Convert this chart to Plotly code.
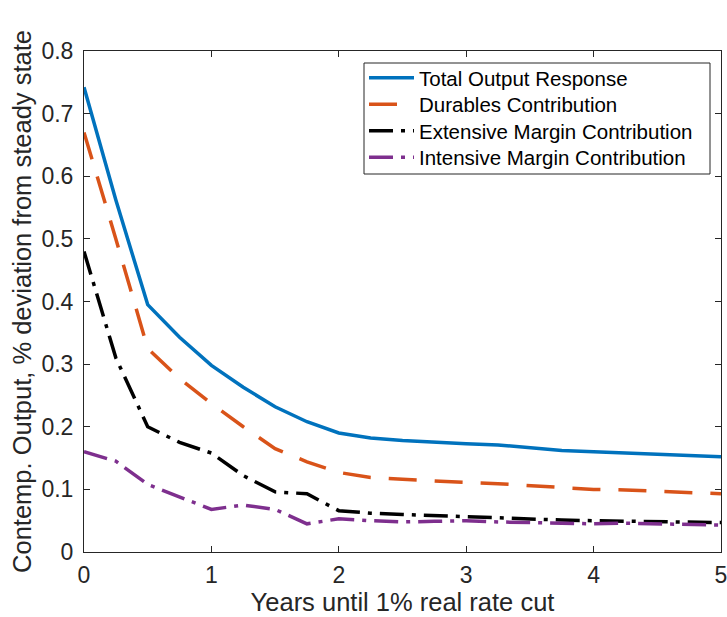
import plotly.graph_objects as go

years = [0, 0.25, 0.5, 0.75, 1.0, 1.25, 1.5, 1.75, 2.0, 2.25, 2.5, 2.75,
         3.0, 3.25, 3.5, 3.75, 4.0, 4.25, 4.5, 4.75, 5.0]

total_output = [0.742, 0.562, 0.395, 0.343, 0.298, 0.263, 0.232, 0.208, 0.190,
                0.182, 0.178, 0.175, 0.173, 0.171, 0.166, 0.162, 0.160, 0.158,
                0.156, 0.153, 0.152]
durables = [0.670, 0.500, 0.325, 0.277, 0.237, 0.200, 0.165, 0.144, 0.127,
            0.119, 0.116, 0.113, 0.111, 0.109, 0.106, 0.102, 0.100, 0.099,
            0.097, 0.095, 0.093]
extensive = [0.480, 0.310, 0.200, 0.175, 0.158, 0.122, 0.096, 0.093, 0.066,
             0.062, 0.060, 0.058, 0.056, 0.055, 0.053, 0.051, 0.050, 0.049,
             0.048, 0.047, 0.047]
intensive = [0.160, 0.145, 0.108, 0.088, 0.068, 0.075, 0.068, 0.045, 0.053,
             0.050, 0.048, 0.049, 0.050, 0.048, 0.047, 0.046, 0.045, 0.046,
             0.045, 0.044, 0.043]

names = ["Total Output Response", "Durables Contribution",
         "Extensive Margin Contribution", "Intensive Margin Contribution"]

FONT = "Liberation Sans, Arial, Helvetica, sans-serif"
AX = "#262626"

W, H = 727, 617
ML, MR, MT, MB = 84, 6, 51, 65

fig = go.Figure()
series = [
    (total_output, "#0072BD", "solid"),
    (durables, "#D95319", "28px,18px"),
    (extensive, "#000000", "24px,8px,4px,8px"),
    (intensive, "#7E2F8E", "24px,8px,4px,8px"),
]
legend_ids = ["legend", "legend2", "legend3", "legend4"]
for (vals, col, dash), nm, lid in zip(series, names, legend_ids):
    fig.add_trace(go.Scatter(x=years, y=vals, mode="lines", name=nm, legend=lid,
                             line=dict(color=col, width=3.5, dash=dash)))

axis_common = dict(
    showgrid=False, zeroline=False, showline=True, linecolor=AX, linewidth=1,
    mirror="ticks", ticks="inside", ticklen=6, tickcolor=AX, tickwidth=1,
    tickfont=dict(family=FONT, size=23, color=AX), automargin=False,
    ticklabeloverflow="allow",
)

# legend box geometry in plot-area fractions
plot_w = W - ML - MR
plot_h = H - MT - MB
box_left, box_right, box_top, box_bot = 364 - 84, 710 - 84, 63 - 51, 174 - 51
row_centers = [78, 104.5, 131, 157.5]

legend_layout = {}
for lid, yc in zip(legend_ids, row_centers):
    legend_layout[lid] = dict(
        x=box_left / plot_w, y=1 - (yc - 51) / plot_h,
        xanchor="left", yanchor="middle",
        bgcolor="rgba(0,0,0,0)", borderwidth=0,
        font=dict(family=FONT, size=20.5, color="#000000"),
        itemwidth=45,
    )

fig.update_layout(
    width=W, height=H,
    margin=dict(l=ML, r=MR, t=MT, b=MB),
    paper_bgcolor="white", plot_bgcolor="white",
    font=dict(family=FONT, color=AX),
    xaxis=dict(range=[0, 5], dtick=1, tick0=0,
               title=dict(text="Years until 1% real rate cut",
                          font=dict(family=FONT, size=25.5, color=AX), standoff=6),
               ticklabelstandoff=2, **axis_common),
    yaxis=dict(range=[0, 0.8], dtick=0.1, tick0=0,
               title=dict(text="Contemp. Output, % deviation from steady state",
                          font=dict(family=FONT, size=25.5, color=AX), standoff=2),
               ticklabelstandoff=5, **axis_common),
    showlegend=True,
    shapes=[dict(type="rect", xref="paper", yref="paper", layer="above",
                 x0=box_left / plot_w, x1=box_right / plot_w,
                 y0=1 - box_bot / plot_h, y1=1 - box_top / plot_h,
                 line=dict(color=AX, width=1), fillcolor="white")],
    **legend_layout,
)

fig.write_html(
    "out.html",
    config={"displayModeBar": False},
    post_script="document.body.style.margin='0';document.body.style.overflow='hidden';",
)
